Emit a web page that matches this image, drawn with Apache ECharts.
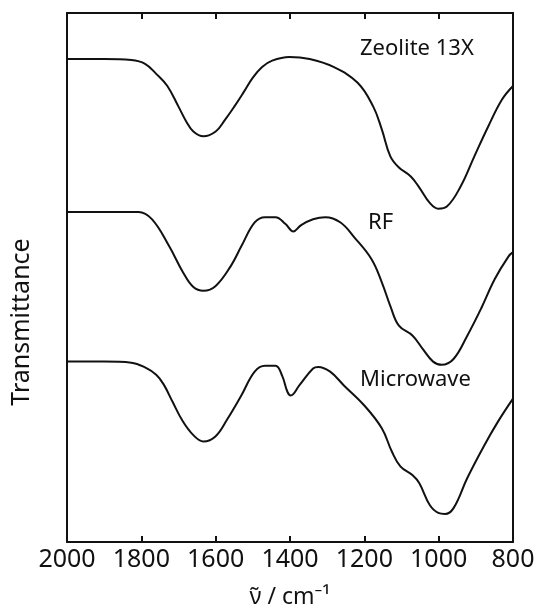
<!DOCTYPE html>
<html><head><meta charset="utf-8">
<script src="https://cdn.jsdelivr.net/npm/echarts@6/dist/echarts.min.js"></script>
<style>html,body{margin:0;padding:0;background:#fff}#c{width:541px;height:614px}</style>
</head><body><div id="c"></div>
<script>
// wavenumber (cm^-1) and transmittance (arbitrary, offset)
const zeoliteX = [2000,1900,1827,1790,1760,1730,1700,1680,1660,1633,1600,1575,1550,1525,1500,1475,1448,1402,1347,1283,1218,1176,1153,1130,1107,1075,1052,1024,1001,978,941,904,867,830,800];
const zeoliteY = [91.3,91.3,91.1,90.4,88.5,86.2,82.3,79.6,77.6,76.7,77.6,79.8,82.3,85.0,87.8,89.8,91.0,91.7,91.3,89.8,86.8,82.3,78.0,72.9,70.8,69.1,67.0,64.1,63.0,63.4,67.2,72.9,78.5,83.6,86.2];
const rfX = [2000,1900,1808,1771,1725,1688,1660,1633,1600,1559,1531,1495,1467,1439,1412,1391,1370,1338,1305,1264,1227,1181,1153,1130,1107,1070,1043,1015,992,960,923,886,849,812,800];
const rfY = [62.4,62.4,62.4,61.0,55.9,51.0,48.2,47.5,48.4,52.2,55.9,60.4,61.4,61.4,60.1,58.7,59.9,61.0,61.4,60.4,57.6,53.5,49.1,44.6,40.9,39.0,36.5,34.1,33.5,34.6,39.0,44.1,49.7,54.0,54.8];
const mwX = [2000,1900,1827,1790,1760,1740,1716,1690,1660,1633,1600,1568,1531,1495,1467,1439,1421,1407,1398,1375,1338,1324,1292,1255,1200,1153,1126,1103,1070,1052,1024,1001,983,960,923,877,840,800];
const mwY = [34.1,34.1,33.9,33.0,31.6,29.8,26.5,23.0,20.2,19.0,20.0,23.3,27.7,32.2,33.3,33.3,31.4,28.4,27.7,29.6,32.8,33.1,32.2,29.6,25.8,21.5,17.1,14.3,12.6,11.1,7.0,5.5,5.3,6.4,12.1,18.3,22.8,27.1];
const xTicks = [2000,1800,1600,1400,1200,1000,800];
const seriesNames = ['Zeolite 13X','RF','Microwave'];

const zip = (xs, ys) => xs.map((x, i) => [x, ys[i]]).reverse();
const FONT = 'Noto Sans';
const chart = echarts.init(document.getElementById('c'), null, {renderer:'canvas'});
const lineStyle = {color:'#111', width:2};
const tickFmt = v => xTicks.includes(v) ? String(v) : '';
chart.setOption({
  animation:false,
  grid:{left:67, right:28, top:13, bottom:70},
  xAxis:[{
    type:'value', min:800, max:2000, interval:200, inverse:true,
    axisLine:{show:true, onZero:false, lineStyle:{color:'#111', width:2}},
    axisTick:{show:true, inside:true, length:6, lineStyle:{color:'#111', width:2}},
    axisLabel:{fontFamily:FONT, fontSize:25, color:'#111', margin:5, formatter:tickFmt},
    splitLine:{show:false},
    name:'ν̃ / cm⁻¹', nameLocation:'middle', nameGap:44,
    nameTextStyle:{fontFamily:FONT, fontSize:23, color:'#111'}
  },{
    type:'value', min:800, max:2000, interval:200, inverse:true, position:'top',
    axisLine:{show:true, onZero:false, lineStyle:{color:'#111', width:2}},
    axisTick:{show:true, inside:true, length:6, lineStyle:{color:'#111', width:2}},
    axisLabel:{show:false}, splitLine:{show:false}
  }],
  yAxis:[{
    type:'value', min:0, max:100,
    axisLine:{show:true, onZero:false, lineStyle:{color:'#111', width:2}},
    axisTick:{show:false}, axisLabel:{show:false}, splitLine:{show:false}
  },{
    type:'value', min:0, max:100, position:'right',
    axisLine:{show:true, onZero:false, lineStyle:{color:'#111', width:2}},
    axisTick:{show:false}, axisLabel:{show:false}, splitLine:{show:false}
  }],
  series:[
    {name:seriesNames[0], type:'line', data:zip(zeoliteX, zeoliteY), smooth:0.4, showSymbol:false, lineStyle},
    {name:seriesNames[1], type:'line', data:zip(rfX, rfY), smooth:0.4, showSymbol:false, lineStyle},
    {name:seriesNames[2], type:'line', data:zip(mwX, mwY), smooth:0.4, showSymbol:false, lineStyle}
  ],
  graphic:[
    {type:'text', left:360, top:38, style:{text:seriesNames[0], font:'22px "Noto Sans"', fill:'#111'}},
    {type:'text', left:368, top:212, style:{text:seriesNames[1], font:'22px "Noto Sans"', fill:'#111'}},
    {type:'text', left:360, top:369, style:{text:seriesNames[2], font:'22px "Noto Sans"', fill:'#111'}},
    {type:'text', x:22, y:322, rotation:Math.PI/2, style:{text:'Transmittance', font:'25px "Noto Sans"', fill:'#111', align:'center', verticalAlign:'middle'}}
  ]
});
</script></body></html>
